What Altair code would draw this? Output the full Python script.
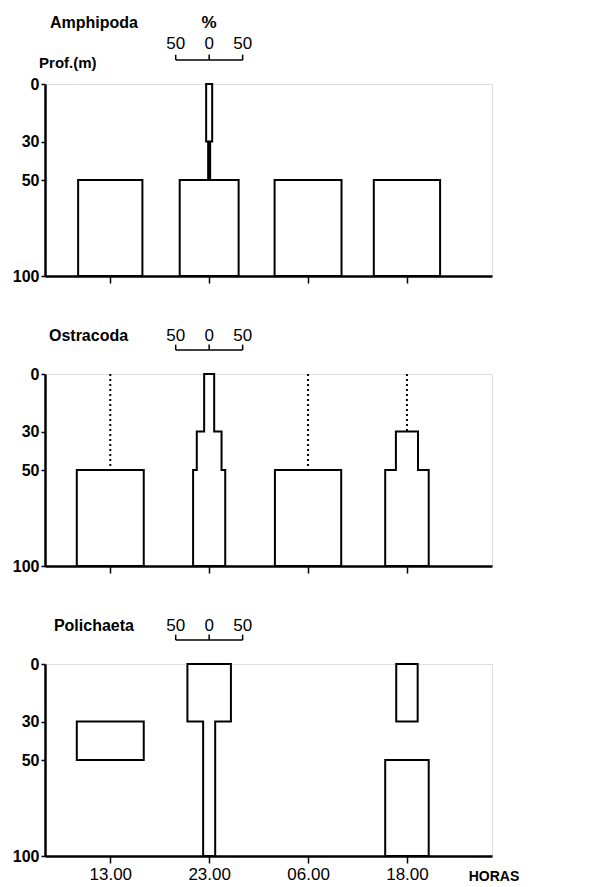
import altair as alt
import pandas as pd

# ---------------- data ----------------
times = ["13.00", "23.00", "06.00", "18.00"]
layer_top = [0, 30, 50]
layer_bottom = [30, 50, 100]
depth_ticks = [0, 30, 50, 100]

# % of individuals per depth layer (0-30, 30-50, 50-100 m), one row per hour
amphipoda_pct = [[0, 0, 96], [9, 3, 88], [0, 0, 100], [0, 0, 99]]
ostracoda_pct = [[0, 0, 100], [15, 37, 48], [0, 0, 99], [0, 33, 65]]
polichaeta_pct = [[0, 100, 0], [65, 18, 18], [0, 0, 0], [32, 0, 65]]

# presence in traces (dotted line), same layout
amphipoda_trace = [[0, 0, 0], [0, 0, 0], [0, 0, 0], [0, 0, 0]]
ostracoda_trace = [[1, 1, 0], [0, 0, 0], [1, 1, 0], [1, 0, 0]]
polichaeta_trace = [[0, 0, 0], [0, 0, 0], [0, 0, 0], [0, 0, 0]]

scale_pct = [-50, 0, 50]
scale_labels = ["50", "0", "50"]

# ---------------- geometry ----------------
X_MIN, X_MAX = -0.66, 3.86
UNITS_PER_PCT = 0.677 / 100.0      # full width of a 100 % bar in hour-slot units
W, H = 447, 192
FONT = "Liberation Sans"

xs = alt.Scale(domain=[X_MIN, X_MAX], nice=False, zero=False)
ys = alt.Scale(domain=[0, 100], reverse=True, nice=False, zero=False)


def kite_rows(pct_rows):
    rows = []
    for ti, vals in enumerate(pct_rows):
        k, piece = 0, 0
        while k < len(vals):
            if vals[k] <= 0:
                k += 1
                continue
            run = []
            while k < len(vals) and vals[k] > 0:
                run.append(k)
                k += 1
            c = ti
            hw = lambda j: vals[j] * UNITS_PER_PCT / 2.0
            pts = [(c, layer_top[run[0]])]
            for j in run:
                pts.append((c + hw(j), layer_top[j]))
                pts.append((c + hw(j), layer_bottom[j]))
            for j in reversed(run):
                pts.append((c - hw(j), layer_bottom[j]))
                pts.append((c - hw(j), layer_top[j]))
            pts.append((c, layer_top[run[0]]))
            for n, (x, y) in enumerate(pts):
                rows.append(dict(group=f"{ti}-{piece}", seq=n, x=x, y=y))
            piece += 1
    return pd.DataFrame(rows)


def trace_rows(trace):
    rows = []
    for ti, vals in enumerate(trace):
        k = 0
        while k < len(vals):
            if not vals[k]:
                k += 1
                continue
            start = k
            while k < len(vals) and vals[k]:
                k += 1
            rows.append(dict(x=ti, y=layer_top[start], y2=layer_bottom[k - 1]))
    return pd.DataFrame(rows, columns=["x", "y", "y2"])


def text_layer(df, size, weight="bold", align="center"):
    return alt.Chart(df).mark_text(
        font=FONT, fontSize=size, fontWeight=weight, align=align,
        baseline="middle", color="black"
    ).encode(
        x=alt.X("x:Q", scale=xs),
        y=alt.Y("y:Q", scale=ys),
        text="t:N",
    )


def panel(name, pct, trace, first=False, last=False, title_y=-20,
          num_y=-20, bar_y=-12.5, title_dx=0.05):
    label_expr = "[" + ",".join(f"'{t}'" for t in times) + "][datum.value]"
    xaxis = alt.Axis(
        values=[0, 1, 2, 3], labels=last, labelExpr=label_expr, title=None,
        grid=False, domainColor="black", domainWidth=2.5, tickColor="black",
        tickWidth=1.5, tickSize=7, labelFont=FONT, labelFontSize=17,
        labelColor="black", labelPadding=3,
    )
    yaxis = alt.Axis(
        values=depth_ticks, title=None, grid=False, domainColor="black",
        domainWidth=2.5, tickColor="black", tickWidth=1.5, tickSize=4,
        labelFont=FONT, labelFontSize=16, labelFontWeight="bold",
        labelColor="black", labelPadding=2,
    )
    kite = alt.Chart(kite_rows(pct)).mark_line(
        color="black", strokeWidth=2, strokeJoin="miter"
    ).encode(
        x=alt.X("x:Q", scale=xs, axis=xaxis),
        y=alt.Y("y:Q", scale=ys, axis=yaxis),
        detail="group:N",
        order="seq:Q",
    )
    layers = [kite]

    tr = trace_rows(trace)
    if len(tr):
        layers.append(
            alt.Chart(tr).mark_rule(color="black", strokeWidth=2, strokeDash=[2, 3]).encode(
                x=alt.X("x:Q", scale=xs),
                y=alt.Y("y:Q", scale=ys),
                y2="y2:Q",
            )
        )

    # % scale bar centred on the second hour
    c = 1
    half = [c + p * UNITS_PER_PCT for p in scale_pct]
    bar = pd.DataFrame([dict(x=half[0], x2=half[-1], y=bar_y)])
    layers.append(
        alt.Chart(bar).mark_rule(color="black", strokeWidth=1.5).encode(
            x=alt.X("x:Q", scale=xs), x2="x2:Q",
            y=alt.Y("y:Q", scale=ys),
        )
    )
    ticks = pd.DataFrame([dict(x=v, y=bar_y, y2=bar_y - 2.8) for v in half])
    layers.append(
        alt.Chart(ticks).mark_rule(color="black", strokeWidth=1.5).encode(
            x=alt.X("x:Q", scale=xs),
            y=alt.Y("y:Q", scale=ys), y2="y2:Q",
        )
    )
    nums = pd.DataFrame([dict(x=v, y=num_y, t=s) for v, s in zip(half, scale_labels)])
    layers.append(text_layer(nums, 17, weight="normal"))

    layers.append(text_layer(pd.DataFrame([dict(x=X_MIN + title_dx, y=title_y, t=name)]),
                             16, align="left"))
    if first:
        layers.append(text_layer(pd.DataFrame([dict(x=c, y=title_y, t="%")]), 17))
        layers.append(text_layer(pd.DataFrame([dict(x=X_MIN - 0.06, y=-11, t="Prof.(m)")]),
                                 15, align="left"))
    if last:
        layers.append(text_layer(pd.DataFrame([dict(x=3.88, y=111, t="HORAS")]), 14))

    return alt.layer(*layers).properties(width=W, height=H)


p1 = panel("Amphipoda", amphipoda_pct, amphipoda_trace, first=True,
           title_y=-32, num_y=-21)
p2 = panel("Ostracoda", ostracoda_pct, ostracoda_trace, title_dx=0.04)
p3 = panel("Polichaeta", polichaeta_pct, polichaeta_trace, last=True, title_dx=0.09)

chart = alt.vconcat(p1, p2, p3, spacing=41).properties(
    padding={"left": 3, "top": 5, "right": 5, "bottom": 2}
).configure_view(strokeWidth=0).configure(background="white")

chart.save("out.html", embed_options={"renderer": "svg", "actions": False})
